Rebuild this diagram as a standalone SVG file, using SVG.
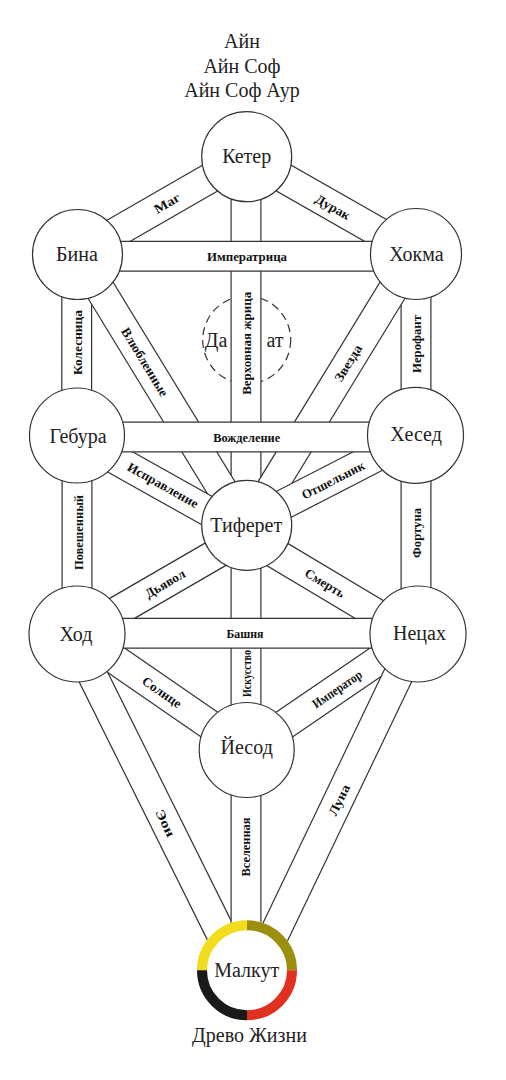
<svg xmlns="http://www.w3.org/2000/svg" width="506" height="1080" viewBox="0 0 506 1080" font-family="'Liberation Serif','DejaVu Serif',serif">
<style>
.o{stroke:#333;stroke-width:31;fill:none}
.i{stroke:#fff;stroke-width:28.6;fill:none}
.node{fill:#fff;stroke:#333;stroke-width:1.2}
.nt{font-family:'Liberation Serif','DejaVu Serif',serif;font-size:20px;fill:#222;text-anchor:middle}
.lb{font-family:'Liberation Serif','DejaVu Serif',serif;font-weight:bold;font-size:13px;fill:#111;text-anchor:middle}
.daat{fill:none;stroke:#333;stroke-width:1.2;stroke-dasharray:8 5}
</style>
<rect width="506" height="1080" fill="#fff"/>
<g id="title">
<text class="nt" x="242" y="48">Айн</text>
<text class="nt" x="242" y="73">Айн Соф</text>
<text class="nt" x="242" y="97">Айн Соф Аур</text>
</g>
<g id="daat">
<circle class="daat" cx="246.7" cy="340" r="44"/>
<text class="nt" x="216" y="347">Да</text>
<text class="nt" x="275" y="347">ат</text>
</g>
<g id="connectors">
<g id="p-mag"><line class="o" x1="77.5" y1="254.5" x2="246.7" y2="157"/><line class="i" x1="77.5" y1="254.5" x2="246.7" y2="157"/><text class="lb" transform="translate(167,203) rotate(-30)" dy="0.35em" textLength="28" lengthAdjust="spacingAndGlyphs">Маг</text></g>
<g id="p-durak"><line class="o" x1="246.7" y1="157" x2="416" y2="253.5"/><line class="i" x1="246.7" y1="157" x2="416" y2="253.5"/><text class="lb" transform="translate(333,207) rotate(29.7)" dy="0.35em" textLength="38" lengthAdjust="spacingAndGlyphs">Дурак</text></g>
<g id="p-zhrica"><line class="o" x1="246" y1="157" x2="246" y2="525"/><line class="i" x1="246" y1="157" x2="246" y2="525"/><text class="lb" transform="translate(246,343.3) rotate(-90)" dy="0.35em" textLength="103" lengthAdjust="spacingAndGlyphs">Верховная жрица</text></g>
<g id="p-kolesnica"><line class="o" x1="76.7" y1="255" x2="76.7" y2="435"/><line class="i" x1="76.7" y1="255" x2="76.7" y2="435"/><text class="lb" transform="translate(77,342.5) rotate(-90)" dy="0.35em" textLength="65" lengthAdjust="spacingAndGlyphs">Колесница</text></g>
<g id="p-ierofant"><line class="o" x1="416" y1="254" x2="416" y2="435"/><line class="i" x1="416" y1="254" x2="416" y2="435"/><text class="lb" transform="translate(416,344) rotate(-90)" dy="0.35em" textLength="58" lengthAdjust="spacingAndGlyphs">Иерофант</text></g>
<g id="p-vlyublennye"><line class="o" x1="79" y1="255" x2="244" y2="525"/><line class="i" x1="79" y1="255" x2="244" y2="525"/><text class="lb" transform="translate(145,362) rotate(58.6)" dy="0.35em" textLength="78" lengthAdjust="spacingAndGlyphs">Влюбленные</text></g>
<g id="p-zvezda"><line class="o" x1="414" y1="255" x2="249" y2="525"/><line class="i" x1="414" y1="255" x2="249" y2="525"/><text class="lb" transform="translate(348,363) rotate(-58.6)" dy="0.35em" textLength="41" lengthAdjust="spacingAndGlyphs">Звезда</text></g>
<g id="p-ispravlenie"><line class="o" x1="77" y1="437.8" x2="247" y2="533"/><line class="i" x1="77" y1="437.8" x2="247" y2="533"/><text class="lb" transform="translate(163,485) rotate(29.2)" dy="0.35em" textLength="79" lengthAdjust="spacingAndGlyphs">Исправление</text></g>
<g id="p-otshelnik"><line class="o" x1="415" y1="436.8" x2="247" y2="523.3"/><line class="i" x1="415" y1="436.8" x2="247" y2="523.3"/><text class="lb" transform="translate(333,480) rotate(-27.2)" dy="0.35em" textLength="69" lengthAdjust="spacingAndGlyphs">Отшельник</text></g>
<g id="p-poveshenny"><line class="o" x1="77" y1="435" x2="77" y2="634"/><line class="i" x1="77" y1="435" x2="77" y2="634"/><text class="lb" transform="translate(78,532.5) rotate(-90)" dy="0.35em" textLength="75" lengthAdjust="spacingAndGlyphs">Повешенный</text></g>
<g id="p-fortuna"><line class="o" x1="416" y1="435" x2="416" y2="634"/><line class="i" x1="416" y1="435" x2="416" y2="634"/><text class="lb" transform="translate(416.5,533) rotate(-90)" dy="0.35em" textLength="50" lengthAdjust="spacingAndGlyphs">Фортуна</text></g>
<g id="p-dyavol"><line class="o" x1="77" y1="634.5" x2="247" y2="536"/><line class="i" x1="77" y1="634.5" x2="247" y2="536"/><text class="lb" transform="translate(165,583.5) rotate(-30.1)" dy="0.35em" textLength="44" lengthAdjust="spacingAndGlyphs">Дьявол</text></g>
<g id="p-smert"><line class="o" x1="247" y1="536.4" x2="417" y2="638"/><line class="i" x1="247" y1="536.4" x2="417" y2="638"/><text class="lb" transform="translate(325,583) rotate(30.9)" dy="0.35em" textLength="44" lengthAdjust="spacingAndGlyphs">Смерть</text></g>
<g id="p-iskusstvo"><line class="o" x1="246" y1="525" x2="246" y2="750"/><line class="i" x1="246" y1="525" x2="246" y2="750"/><text class="lb" transform="translate(246.5,673.5) rotate(-90)" dy="0.35em" textLength="47" lengthAdjust="spacingAndGlyphs">Искусство</text></g>
<g id="p-solnce"><line class="o" x1="77" y1="633.2" x2="247" y2="750.5"/><line class="i" x1="77" y1="633.2" x2="247" y2="750.5"/><text class="lb" transform="translate(162,692) rotate(34.6)" dy="0.35em" textLength="45" lengthAdjust="spacingAndGlyphs">Солнце</text></g>
<g id="p-imperator"><line class="o" x1="247" y1="750" x2="417" y2="634"/><line class="i" x1="247" y1="750" x2="417" y2="634"/><text class="lb" transform="translate(337,689) rotate(-34.3)" dy="0.35em" textLength="57" lengthAdjust="spacingAndGlyphs">Император</text></g>
<g id="p-eon"><line class="o" x1="72" y1="634" x2="239" y2="970"/><line class="i" x1="72" y1="634" x2="239" y2="970"/><text class="lb" transform="translate(165.5,823) rotate(63.6)" dy="0.35em" textLength="29" lengthAdjust="spacingAndGlyphs">Эон</text></g>
<g id="p-luna"><line class="o" x1="418" y1="634" x2="257" y2="970"/><line class="i" x1="418" y1="634" x2="257" y2="970"/><text class="lb" transform="translate(339,800) rotate(-64.4)" dy="0.35em" textLength="33" lengthAdjust="spacingAndGlyphs">Луна</text></g>
<g id="p-vselennaya"><line class="o" x1="246" y1="750" x2="246" y2="970"/><line class="i" x1="246" y1="750" x2="246" y2="970"/><text class="lb" transform="translate(245.5,847) rotate(-90)" dy="0.35em" textLength="59" lengthAdjust="spacingAndGlyphs">Вселенная</text></g>
<g id="p-imperatrica"><line class="o" x1="77" y1="256.2" x2="416" y2="256.2"/><line class="i" x1="77" y1="256.2" x2="416" y2="256.2"/><text class="lb" x="247" y="256.5" dy="0.35em" textLength="80" lengthAdjust="spacingAndGlyphs">Императрица</text></g>
<g id="p-vozhdelenie"><line class="o" x1="77" y1="437" x2="416" y2="437"/><line class="i" x1="77" y1="437" x2="416" y2="437"/><text class="lb" x="246.7" y="437" dy="0.35em" textLength="67" lengthAdjust="spacingAndGlyphs">Вожделение</text></g>
<g id="p-bashnya"><line class="o" x1="77" y1="633.3" x2="417" y2="633.3"/><line class="i" x1="77" y1="633.3" x2="417" y2="633.3"/><text class="lb" x="245" y="633.5" dy="0.35em" textLength="37" lengthAdjust="spacingAndGlyphs">Башня</text></g>
</g>
<g id="keter"><circle class="node" cx="246.7" cy="156.7" r="45"/><text class="nt" x="246.7" y="163">Кетер</text></g>
<g id="bina"><circle class="node" cx="77.5" cy="254.5" r="45"/><text class="nt" x="77" y="261">Бина</text></g>
<g id="hokma"><circle class="node" cx="416" cy="254" r="45.5"/><text class="nt" x="416.5" y="260.5">Хокма</text></g>
<g id="gebura"><circle class="node" cx="77" cy="435.5" r="47.5"/><text class="nt" x="78" y="443">Гебура</text></g>
<g id="hesed"><circle class="node" cx="415.5" cy="435.3" r="48"/><text class="nt" x="416" y="440.5">Хесед</text></g>
<g id="tiferet"><circle class="node" cx="246.7" cy="525.3" r="45"/><text class="nt" x="246.2" y="532">Тиферет</text></g>
<g id="hod"><circle class="node" cx="77" cy="634" r="48"/><text class="nt" x="76" y="640.5">Ход</text></g>
<g id="netzah"><circle class="node" cx="418" cy="634" r="48"/><text class="nt" x="419.5" y="640">Нецах</text></g>
<g id="yesod"><circle class="node" cx="246.7" cy="750" r="47.5"/><text class="nt" x="246.7" y="754">Йесод</text></g>
<g id="malkut">
<circle cx="247" cy="970.3" r="50" fill="#fff"/>
<path d="M202,970.3 A45,45 0 0 1 247,925.3" fill="none" stroke="#f2dc1e" stroke-width="10"/>
<path d="M247,925.3 A45,45 0 0 1 292,970.3" fill="none" stroke="#9c8f0e" stroke-width="10"/>
<path d="M292,970.3 A45,45 0 0 1 247,1015.3" fill="none" stroke="#e0301f" stroke-width="10"/>
<path d="M247,1015.3 A45,45 0 0 1 202,970.3" fill="none" stroke="#1b1a18" stroke-width="10"/>
<text class="nt" x="246.7" y="977">Малкут</text>
</g>
<g id="caption"><text class="nt" x="249.5" y="1041.5">Древо Жизни</text></g>
</svg>
